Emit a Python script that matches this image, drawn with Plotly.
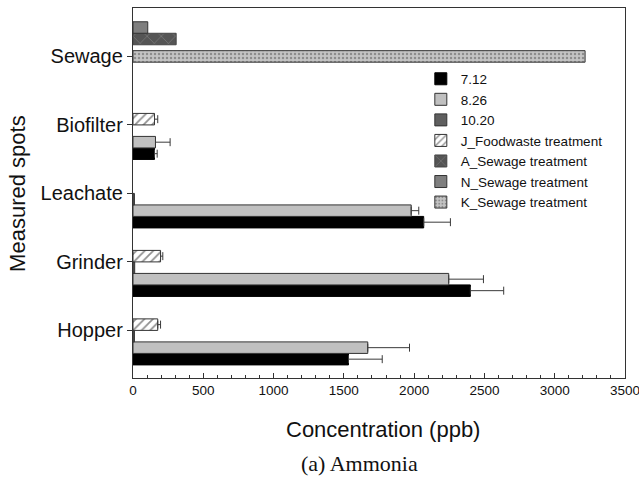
import plotly.graph_objects as go

categories = ["Hopper", "Grinder", "Leachate", "Biofilter", "Sewage"]

v712 = [1533, 2400, 2068, 153, None]
e712 = [240, 237, 190, 19, 0]
v826 = [1670, 2246, 1979, 160, None]
e826 = [297, 247, 54, 104, 0]
v1020 = [10, 12, 10, None, None]
vJ = [176, 196, None, 153, None]
eJ = [20, 16, 0, 23, 0]
vA = [None, None, None, None, 307]
vN = [None, None, None, None, 105]
vK = [None, None, None, None, 3216]
xticks = [0, 500, 1000, 1500, 2000, 2500, 3000, 3500]

W = 0.168
EC = "#3a3a3a"

def err(arr):
    return dict(type="data", array=arr, arrayminus=[0]*len(arr), symmetric=False,
                color=EC, thickness=1, width=4)

fig = go.Figure()
fig.add_trace(go.Bar(name="7.12", y=categories, x=v712, orientation="h", offset=-0.504, width=W,
                     marker=dict(color="#000000", line=dict(color="#000000", width=1)), error_x=err(e712)))
fig.add_trace(go.Bar(name="8.26", y=categories, x=v826, orientation="h", offset=-0.336, width=W,
                     marker=dict(color="#c0c0c0", line=dict(color="#333333", width=1)), error_x=err(e826)))
fig.add_trace(go.Bar(name="10.20", y=categories, x=v1020, orientation="h", offset=-0.168, width=W,
                     marker=dict(color="#5f5f5f", line=dict(color="#333333", width=1))))
fig.add_trace(go.Bar(name="J_Foodwaste treatment", y=categories, x=vJ, orientation="h", offset=0.0, width=W,
                     marker=dict(color="white", line=dict(color="#333333", width=1),
                                 pattern=dict(shape="/", fgcolor="#222222", bgcolor="white", size=6, solidity=0.3)),
                     error_x=err(eJ)))
fig.add_trace(go.Bar(name="A_Sewage treatment", y=categories, x=vA, orientation="h", offset=0.17, width=W,
                     marker=dict(color="#555555", line=dict(color="#444444", width=1),
                                 pattern=dict(shape="x", fgcolor="#9a9a9a", bgcolor="#555555", size=10, solidity=0.15))))
fig.add_trace(go.Bar(name="N_Sewage treatment", y=categories, x=vN, orientation="h", offset=0.338, width=W,
                     marker=dict(color="#7f7f7f", line=dict(color="#333333", width=1))))
fig.add_trace(go.Bar(name="K_Sewage treatment", y=categories, x=vK, orientation="h", offset=-0.084, width=W,
                     marker=dict(color="#c4c4c4", line=dict(color="#333333", width=1),
                                 pattern=dict(shape=".", fgcolor="#555555", bgcolor="#c4c4c4", size=4, solidity=0.3))))

fig.update_layout(
    width=639, height=480,
    margin=dict(l=133, r=14, t=8, b=102),
    paper_bgcolor="white", plot_bgcolor="white",
    barmode="overlay",
    font=dict(family="Liberation Sans, Arial, sans-serif", color="#111111"),
    showlegend=True,
    legend=dict(x=0.585, y=0.85, xanchor="left", yanchor="top", bgcolor="rgba(0,0,0,0)",
                font=dict(size=13.5), traceorder="normal", itemwidth=30),
    xaxis=dict(range=[0, 3500], tickvals=xticks, ticktext=[str(t) for t in xticks],
               ticklabeloverflow="allow", automargin=False,
               ticks="inside", ticklen=5, tickwidth=1, tickcolor="#333333",
               minor=dict(dtick=100, ticks="inside", ticklen=3, tickcolor="#333333", tickwidth=1, showgrid=False),
               showline=True, linecolor="#333333", linewidth=1.3, mirror=True,
               showgrid=False, zeroline=False, tickfont=dict(size=13.5)),
    yaxis=dict(type="category", categoryorder="array", categoryarray=categories, automargin=False,
               range=[-0.695, 4.707], ticks="outside", ticklen=5, tickcolor="#333333",
               showline=True, linecolor="#333333", linewidth=1.3, mirror=True,
               showgrid=False, zeroline=False, tickfont=dict(size=20)),
    annotations=[
        dict(text="Concentration (ppb)", xref="paper", yref="paper", x=0.508, y=-0.1405,
             xanchor="center", yanchor="middle", showarrow=False, font=dict(size=22)),
        dict(text="(a) Ammonia", xref="paper", yref="paper", x=0.461, y=-0.23,
             xanchor="center", yanchor="middle", showarrow=False,
             font=dict(size=22, family="Liberation Serif, Times New Roman, serif")),
        dict(text="Measured spots", xref="paper", yref="paper", x=-0.236, y=0.5, textangle=-90,
             xanchor="center", yanchor="middle", showarrow=False, font=dict(size=22)),
    ],
)

fig.write_html("out.html")
